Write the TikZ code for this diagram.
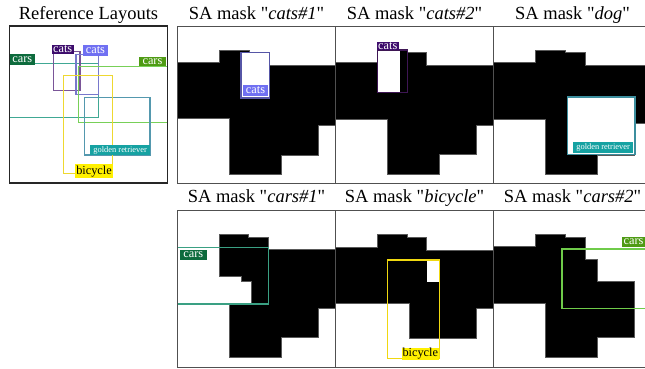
\documentclass[tikz,border=0pt]{standalone}
\usepackage{fontspec}
\setmainfont{Liberation Serif}[Ligatures=TeXOff]

% label fills, box outlines in the mask panels, box outlines in the layout panel
\definecolor{catsAtag}{HTML}{7070F2}
\definecolor{catsAline}{HTML}{5656A6}
\definecolor{catsAlay}{HTML}{7878CC}
\definecolor{catsBtag}{HTML}{3D0C6C}
\definecolor{catsBline}{HTML}{3E1654}
\definecolor{catsBlay}{HTML}{7A5598}
\definecolor{carsAtag}{HTML}{0D6B3D}
\definecolor{carsAline}{HTML}{3AA083}
\definecolor{carsAlay}{HTML}{40A894}
\definecolor{carsBtag}{HTML}{4F9B14}
\definecolor{carsBline}{HTML}{6FCB4A}
\definecolor{carsBlay}{HTML}{78D058}
\definecolor{bikeTag}{HTML}{FFF000}
\definecolor{bikeLine}{HTML}{F0D810}
\definecolor{bikeLay}{HTML}{EED830}
\definecolor{dogTag}{HTML}{16A2A2}
\definecolor{dogLine}{HTML}{3C8E9E}
\definecolor{dogLay}{HTML}{5498AE}
\definecolor{panelRule}{HTML}{505050}

\tikzset{
  heading/.style={font=\fontsize{18.5}{22}\selectfont, anchor=base, inner sep=0pt},
  tag/.style={inner sep=0pt, text=white, font=\fontsize{12.3}{13}\selectfont},
  smalltag/.style={inner sep=0pt, text=white, font=\fontsize{8.4}{9}\selectfont},
  maskfill/.style={fill=black, draw=black!65, line width=0.5pt},
  panelframe/.style={draw=panelRule, line width=1pt},
  layframe/.style={draw=black!85, line width=1.2pt},
  laybox/.style={line width=1.5pt},
  maskbox/.style={line width=1.6pt},
}

\begin{document}
\begin{tikzpicture}[x=1pt,y=-1pt]
\useasboundingbox (0,0) rectangle (645,368);
\clip (0,0) rectangle (645,368);
\fill[white] (0,0) rectangle (645,368);

% ---------- headings ----------
\node[heading] (hlay) at (88.5,19) {Reference Layouts};
\node[heading] (h1) at (256.5,19.8) {SA mask "\textit{cats\#1}"};
\node[heading] (h2) at (414.5,19.8) {SA mask "\textit{cats\#2}"};
\node[heading] (h3) at (572.5,19.8) {SA mask "\textit{dog}"};
\node[heading] (h4) at (256.5,202.6) {SA mask "\textit{cars\#1}"};
\node[heading] (h5) at (414.5,202.6) {SA mask "\textit{bicycle}"};
\node[heading] (h6) at (572.5,202.6) {SA mask "\textit{cars\#2}"};

% ---------- layout panel ----------
\draw[layframe, fill=white] (9.3,26) rectangle (167.7,183);
\draw[laybox, draw=carsAlay] (9.3,63.3) rectangle (98.3,117.3);
\draw[laybox, draw=catsBlay] (53.3,51.7) rectangle (80,90.7);
\draw[laybox, draw=catsAlay] (76,54.5) rectangle (98.3,94.5);
\draw[laybox, draw=carsBlay] (78.3,66.6) rectangle (167.7,122.3);
\draw[laybox, draw=dogLay] (84.3,97.7) rectangle (150,155);
\draw[laybox, draw=bikeLay] (63.3,75.7) rectangle (112.7,173.3);
\draw[layframe] (9.3,26) rectangle (167.7,183);
\node[tag, fill=carsAtag, minimum width=25.7, minimum height=11, anchor=north west] (lcarsA) at (9.3,54) {cars};
\node[tag, fill=catsBtag, minimum width=21.6, minimum height=9.7, anchor=north west] (lcatsB) at (51.7,44.3) {cats};
\node[tag, fill=catsAtag, minimum width=25, minimum height=10.7, anchor=north west] (lcatsA) at (82.7,45) {cats};
\node[tag, fill=carsBtag, minimum width=26.5, minimum height=9.5, anchor=north west] (lcarsB) at (139,56.6) {cars};
\node[smalltag, fill=dogTag, minimum width=60, minimum height=10, anchor=north west] (ldog) at (90,145) {golden retriever};
\node[tag, fill=bikeTag, text=black, minimum width=37.7, minimum height=14, anchor=north west] (lbike) at (75,164) {bicycle};

% ---------- SA mask "cats#1" ----------
\begin{scope}[shift={(177.5,26.5)}]
  \fill[maskfill] (0,36.2) -- (42,36.2) -- (42,23.5) -- (72,23.5) -- (72,25.8) -- (92,25.8) -- (92,38.5)
    -- (158,38.5) -- (158,98.5) -- (141,98.5) -- (141,128.5) -- (104,128.5) -- (104,147.5)
    -- (52,147.5) -- (52,92) -- (0,92) -- cycle;
  \draw[maskbox, draw=catsAline, fill=white] (63.7,25.8) rectangle (92,71.2);
  \node[tag, fill=catsAtag, minimum width=25, minimum height=10.3, anchor=south west] (p1cats) at (65.3,69.3) {cats};
  \draw[panelframe] (0,0) rectangle (158,157);
\end{scope}

% ---------- SA mask "cats#2" ----------
\begin{scope}[shift={(335.5,26.5)}]
  \fill[maskfill] (0,36.2) -- (42,36.2) -- (42,23.5) -- (72,23.5) -- (72,25.8) -- (91,25.8) -- (91,38.5)
    -- (158,38.5) -- (158,98.5) -- (141,98.5) -- (141,127.8) -- (103.5,127.8) -- (103.5,147.5)
    -- (51.5,147.5) -- (51.5,92.5) -- (0,92.5) -- cycle;
  \fill[white] (41.8,23.5) rectangle (64.5,65.8);
  \draw[line width=1.3pt, draw=catsBline] (41.8,23.5) rectangle (71.8,65.8);
  \node[tag, fill=catsBtag, minimum width=21.5, minimum height=8.3, anchor=south west] (p2cats) at (41.3,23.8) {cats};
  \draw[panelframe] (0,0) rectangle (158,157);
\end{scope}

% ---------- SA mask "dog" ----------
\begin{scope}[shift={(493.5,26.5)}]
  \fill[maskfill] (0,35.8) -- (41.7,35.8) -- (41.7,23.5) -- (71.7,23.5) -- (71.7,25.8) -- (91.7,25.8) -- (91.7,38.5)
    -- (158,38.5) -- (158,97) -- (141,97) -- (141,128.5) -- (103.8,128.5) -- (103.8,147.5)
    -- (51.7,147.5) -- (51.7,92.5) -- (0,92.5) -- cycle;
  \draw[maskbox, draw=dogLine, fill=white] (73.8,70.2) rectangle (141.5,127.8);
  \node[smalltag, fill=dogTag, minimum width=60, minimum height=10.6, anchor=south east] (p3dog) at (139.8,126.6) {golden retriever};
  \draw[panelframe] (0,0) rectangle (158,157);
\end{scope}

% ---------- SA mask "cars#1" ----------
\begin{scope}[shift={(177.5,210.3)}]
  \fill[maskfill] (0,36.7) -- (42,36.7) -- (42,24) -- (71,24) -- (71,27) -- (91,27) -- (91,39)
    -- (158,39) -- (158,98) -- (141,98) -- (141,126.5) -- (103.7,126.5) -- (103.7,147.4)
    -- (52,147.4) -- (52,93) -- (0,93) -- cycle;
  \fill[white] (0,37) rectangle (91,93.7);
  \fill[maskfill] (41.7,37) -- (91,37) -- (91,93.7) -- (74.2,93.7) -- (74.2,71.4) -- (63.5,71.4)
    -- (63.5,66.4) -- (41.7,66.4) -- cycle;
  \draw[maskbox, draw=carsAline] (0,37) rectangle (91,93.7);
  \node[tag, fill=carsAtag, minimum width=27.3, minimum height=10.5, anchor=north west] (p4cars) at (2,39) {cars};
  \draw[panelframe] (0,0) rectangle (158,157);
\end{scope}

% ---------- SA mask "bicycle" ----------
\begin{scope}[shift={(335.5,210.3)}]
  \fill[maskfill] (0,37) -- (41.8,37) -- (41.8,24) -- (71.8,24) -- (71.8,27) -- (91.2,27) -- (91.2,39.7)
    -- (158,39.7) -- (158,98) -- (141.2,98) -- (141.2,128) -- (73.8,128) -- (73.8,93)
    -- (0,93) -- cycle;
  \fill[white] (91.2,49.5) rectangle (103.8,71.4);
  \draw[maskbox, draw=bikeLine] (51.8,49.5) rectangle (103.8,148.3);
  \node[tag, fill=bikeTag, text=black, minimum width=37.6, minimum height=11.7, anchor=south east] (p5bike) at (103.8,149.8) {bicycle};
  \draw[panelframe] (0,0) rectangle (158,157);
\end{scope}

% ---------- SA mask "cars#2" ----------
\begin{scope}[shift={(493.5,210.3)}]
  \fill[maskfill] (0,36.4) -- (41.5,36.4) -- (41.5,24) -- (71.5,24) -- (71.5,27) -- (91.5,27) -- (91.5,48.7)
    -- (103.8,48.7) -- (103.8,71.4) -- (140.8,71.4) -- (140.8,127) -- (103.8,127) -- (103.8,147.4)
    -- (51.5,147.4) -- (51.5,93) -- (0,93) -- cycle;
  \draw[maskbox, draw=carsBline] (68.2,38.7) rectangle (160,98);
  \node[tag, fill=carsBtag, minimum width=22.5, minimum height=10, anchor=south east] (p6cars) at (151.5,36.4) {cars};
  \draw[panelframe] (0,0) rectangle (158,157);
\end{scope}
\end{tikzpicture}
\end{document}
